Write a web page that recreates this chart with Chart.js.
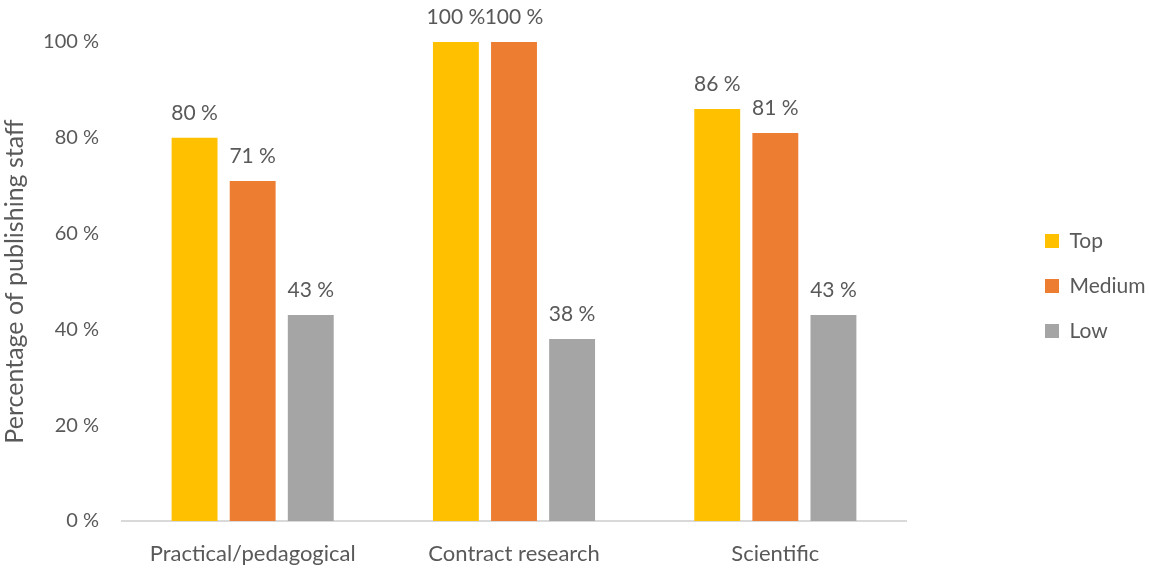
<!DOCTYPE html>
<html>
<head>
  <title>Publishing staff</title>
  <script src="https://cdn.jsdelivr.net/npm/chart.js"></script>
  <style>
    html, body { margin: 0; padding: 0; background: #fff; }
    #wrap { width: 1149px; height: 568px; }
  </style>
</head>
<body>
  <div id="wrap"><canvas id="chart" width="1149" height="568"></canvas></div>
  <script>
    var categories = ['Practical/pedagogical', 'Contract research', 'Scientific'];
    var seriesNames = ['Top', 'Medium', 'Low'];
    var topValues = [80, 100, 86];
    var mediumValues = [71, 100, 81];
    var lowValues = [43, 38, 43];
    var yTicks = [0, 20, 40, 60, 80, 100];

    var colors = ['#FFC000', '#ED7D31', '#A5A5A5'];
    var textColor = '#595959';
    var fontFamily = 'Lato, "Open Sans", sans-serif';

    // value labels above each bar
    var barLabels = {
      id: 'barLabels',
      afterDatasetsDraw: function(chart) {
        var ctx = chart.ctx;
        ctx.save();
        ctx.font = '21px ' + fontFamily;
        ctx.fillStyle = textColor;
        ctx.textAlign = 'center';
        ctx.textBaseline = 'middle';
        chart.data.datasets.forEach(function(ds, i) {
          chart.getDatasetMeta(i).data.forEach(function(bar, j) {
            ctx.fillText(ds.data[j] + ' %', bar.x, bar.y - 25);
          });
        });
        ctx.restore();
      }
    };

    // legend takes a wide slot on the right, items sit near the right edge
    var legendPlace = {
      id: 'legendPlace',
      beforeLayout: function(chart) {
        var lg = chart.legend;
        if (lg && !lg._patched) {
          lg._patched = true;
          var fit = lg.fit;
          lg.fit = function() {
            fit.call(this);
            this.width = 243;
          };
        }
      },
      afterLayout: function(chart) {
        var lg = chart.legend;
        var w = lg.right - lg.left;
        var h = lg.bottom - lg.top;
        lg.left = 1045 - lg.options.labels.padding;
        lg.right = lg.left + w;
        lg.top = 286 - h / 2;
        lg.bottom = lg.top + h;
      }
    };

    var ctx = document.getElementById('chart').getContext('2d');
    var myChart = new Chart(ctx, {
      type: 'bar',
      data: {
        labels: categories,
        datasets: [
          { label: seriesNames[0], data: topValues, backgroundColor: colors[0] },
          { label: seriesNames[1], data: mediumValues, backgroundColor: colors[1] },
          { label: seriesNames[2], data: lowValues, backgroundColor: colors[2] }
        ]
      },
      options: {
        responsive: false,
        animation: false,
        events: [],
        categoryPercentage: 0.667,
        barPercentage: 0.79,
        layout: { padding: { top: 42, bottom: 0, left: 0, right: 0 } },
        plugins: {
          tooltip: { enabled: false },
          legend: {
            position: 'right',
            labels: {
              boxWidth: 14,
              boxHeight: 14,
              padding: 24,
              color: textColor,
              font: { family: fontFamily, size: 21 }
            }
          }
        },
        scales: {
          x: {
            afterFit: function(scale) { scale.height = 47; },
            grid: { display: false, drawTicks: false },
            border: { display: true, color: '#D9D9D9', width: 2 },
            ticks: {
              color: textColor,
              padding: 20,
              maxRotation: 0,
              font: { family: fontFamily, size: 22 }
            }
          },
          y: {
            min: 0,
            max: 100,
            afterFit: function(scale) { scale.width = 122; },
            afterBuildTicks: function(axis) {
              axis.ticks = yTicks.map(function(v) { return { value: v }; });
            },
            grid: { display: false, drawTicks: false },
            border: { display: false },
            ticks: {
              color: textColor,
              padding: 23,
              font: { family: fontFamily, size: 20 },
              callback: function(v) { return v + ' %'; }
            },
            title: {
              display: true,
              text: 'Percentage of publishing staff',
              color: textColor,
              padding: { top: 0, bottom: 0 },
              font: { family: fontFamily, size: 25 }
            }
          }
        }
      },
      plugins: [barLabels, legendPlace]
    });
  </script>
</body>
</html>
